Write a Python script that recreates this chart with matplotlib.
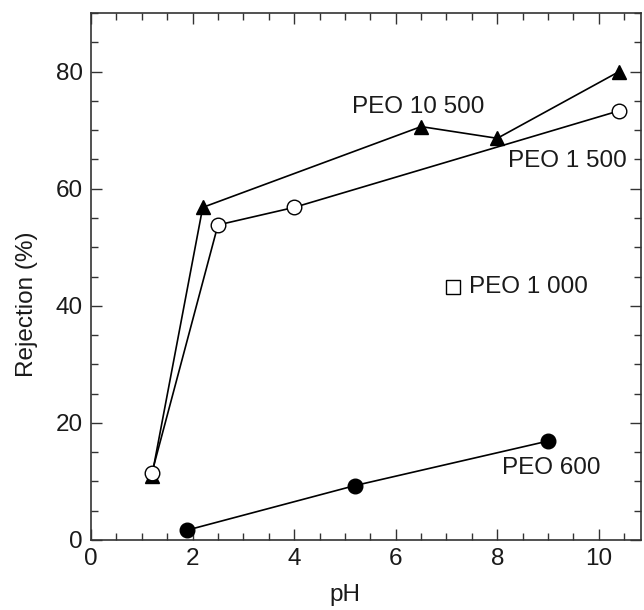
import numpy as np
import matplotlib.pyplot as plt
from matplotlib.ticker import MultipleLocator

plt.rcParams['font.family'] = ['Liberation Sans', 'DejaVu Sans']

# data
ph_10500 = [1.2, 2.2, 6.5, 8.0, 10.4]
rej_10500 = [11.0, 56.8, 70.6, 68.6, 80.0]

ph_1500 = [1.2, 2.5, 4.0, 10.4]
rej_1500 = [11.5, 53.8, 56.8, 73.3]

ph_600 = [1.9, 5.2, 9.0]
rej_600 = [1.7, 9.3, 16.9]

ph_1000 = [7.12]
rej_1000 = [43.2]

txt = '#1a1a1a'

fig = plt.figure(figsize=(6.44, 6.10), dpi=100)
ax = fig.add_axes([91/644, 70/610, 550/644, 527/610])

ax.plot(ph_10500, rej_10500, '-', color='k', lw=1.2, marker='^', ms=10,
        mfc='k', mec='k', zorder=3)
ax.plot(ph_1500, rej_1500, '-', color='k', lw=1.2, marker='o', ms=10.5,
        mfc='white', mec='k', mew=1.0, zorder=4)
ax.plot(ph_600, rej_600, '-', color='k', lw=1.2, marker='o', ms=10.5,
        mfc='k', mec='k', zorder=3)
ax.plot(ph_1000, rej_1000, 's', color='k', ms=9.5, mfc='white', mec='k', mew=1.0)

fs = 17.5
ax.text(5.14, 73.9, 'PEO 10 500', fontsize=fs, color=txt, va='center', ha='left')
ax.text(8.22, 64.8, 'PEO 1 500', fontsize=fs, color=txt, va='center', ha='left')
ax.text(7.45, 43.2, 'PEO 1 000', fontsize=fs, color=txt, va='center', ha='left')
ax.text(8.1, 12.3, 'PEO 600', fontsize=fs, color=txt, va='center', ha='left')

ax.set_xlim(0, 10.83)
ax.set_ylim(0, 90)
ax.xaxis.set_major_locator(MultipleLocator(2))
ax.xaxis.set_minor_locator(MultipleLocator(0.5))
ax.yaxis.set_major_locator(MultipleLocator(20))
ax.yaxis.set_minor_locator(MultipleLocator(5))
ax.tick_params(which='both', direction='in', top=True, right=True,
               labelsize=fs, labelcolor=txt, color='#333333')
ax.tick_params(which='major', length=8, width=1.0, pad=6)
ax.tick_params(which='minor', length=5, width=1.0)
for s in ax.spines.values():
    s.set_linewidth(1.2)
    s.set_color('#333333')

ax.set_xlabel('pH', fontsize=fs, color=txt)
ax.xaxis.set_label_coords(5 / 10.83, -0.083)
ax.set_ylabel('Rejection (%)', fontsize=fs, color=txt)
ax.yaxis.set_label_coords(-0.096, 0.448)

fig.savefig('out.png', dpi=100)
